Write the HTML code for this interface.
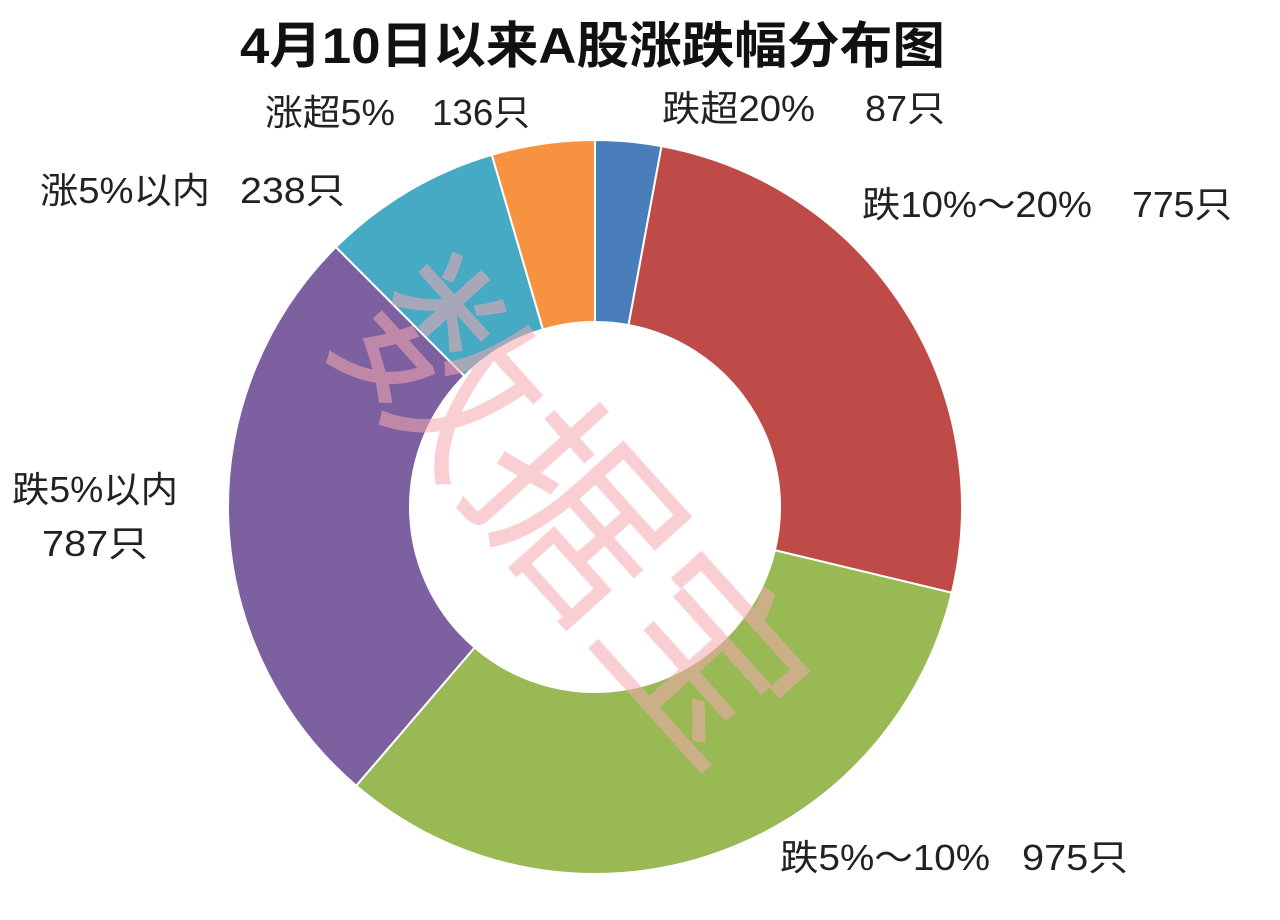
<!DOCTYPE html>
<html><head><meta charset="utf-8">
<style>
body{margin:0;background:#fff;}
svg{display:block;}
text{font-family:"Liberation Sans","Noto Sans CJK SC",sans-serif;}
</style></head>
<body>
<svg id="chart" width="1280" height="920" viewBox="0 0 1280 920">
<text x="240" y="63" textLength="705" lengthAdjust="spacingAndGlyphs" font-size="50" font-weight="bold" fill="#111">4月10日以来A股涨跌幅分布图</text>
<g id="slices"></g>
<g id="labels" font-size="36" fill="#222">
<text x="662" y="121" textLength="153" lengthAdjust="spacingAndGlyphs">跌超20%</text>
<text x="865" y="121" textLength="80" lengthAdjust="spacingAndGlyphs">87只</text>
<text x="862" y="217" textLength="230" lengthAdjust="spacingAndGlyphs">跌10%～20%</text>
<text x="1132" y="217" textLength="100" lengthAdjust="spacingAndGlyphs">775只</text>
<text x="780" y="870" textLength="210" lengthAdjust="spacingAndGlyphs">跌5%～10%</text>
<text x="1022" y="870" textLength="106" lengthAdjust="spacingAndGlyphs">975只</text>
<text x="12" y="502" textLength="166" lengthAdjust="spacingAndGlyphs">跌5%以内</text>
<text x="42" y="556" textLength="106" lengthAdjust="spacingAndGlyphs">787只</text>
<text x="40" y="203" textLength="170" lengthAdjust="spacingAndGlyphs">涨5%以内</text>
<text x="240" y="203" textLength="105" lengthAdjust="spacingAndGlyphs">238只</text>
<text x="265" y="125" textLength="130" lengthAdjust="spacingAndGlyphs">涨超5%</text>
<text x="432" y="125" textLength="98" lengthAdjust="spacingAndGlyphs">136只</text>
</g>
<text x="0" y="0" font-size="195" fill="#f6a8b0" opacity="0.55" transform="translate(560,525) rotate(48)" text-anchor="middle" dominant-baseline="middle">数据宝</text>
</svg>
<script>
const categories=["跌超20%","跌10%～20%","跌5%～10%","跌5%以内","涨5%以内","涨超5%"];
const values=[87,775,975,787,238,136];
const colors=["#4a7ebb","#be4b48","#98b954","#7d60a0","#46aac5","#f69240"];
const cx=595,cy=507,R=367,r=185;
const total=values.reduce((a,b)=>a+b,0);
const g=document.getElementById('slices');
let acc=0;
function pt(a,rad){return [cx+rad*Math.sin(a),cy-rad*Math.cos(a)];}
values.forEach((v,i)=>{
  const a0=acc/total*2*Math.PI; acc+=v; const a1=acc/total*2*Math.PI;
  const large=(a1-a0)>Math.PI?1:0;
  const p0=pt(a0,R),p1=pt(a1,R),q1=pt(a1,r),q0=pt(a0,r);
  const p=document.createElementNS('http://www.w3.org/2000/svg','path');
  p.setAttribute('d',`M${p0[0]},${p0[1]} A${R},${R} 0 ${large} 1 ${p1[0]},${p1[1]} L${q1[0]},${q1[1]} A${r},${r} 0 ${large} 0 ${q0[0]},${q0[1]} Z`);
  p.setAttribute('fill',colors[i]);
  p.setAttribute('stroke','#fff');
  p.setAttribute('stroke-width','2');
  
  
  g.appendChild(p);
});
</script>
</body></html>
